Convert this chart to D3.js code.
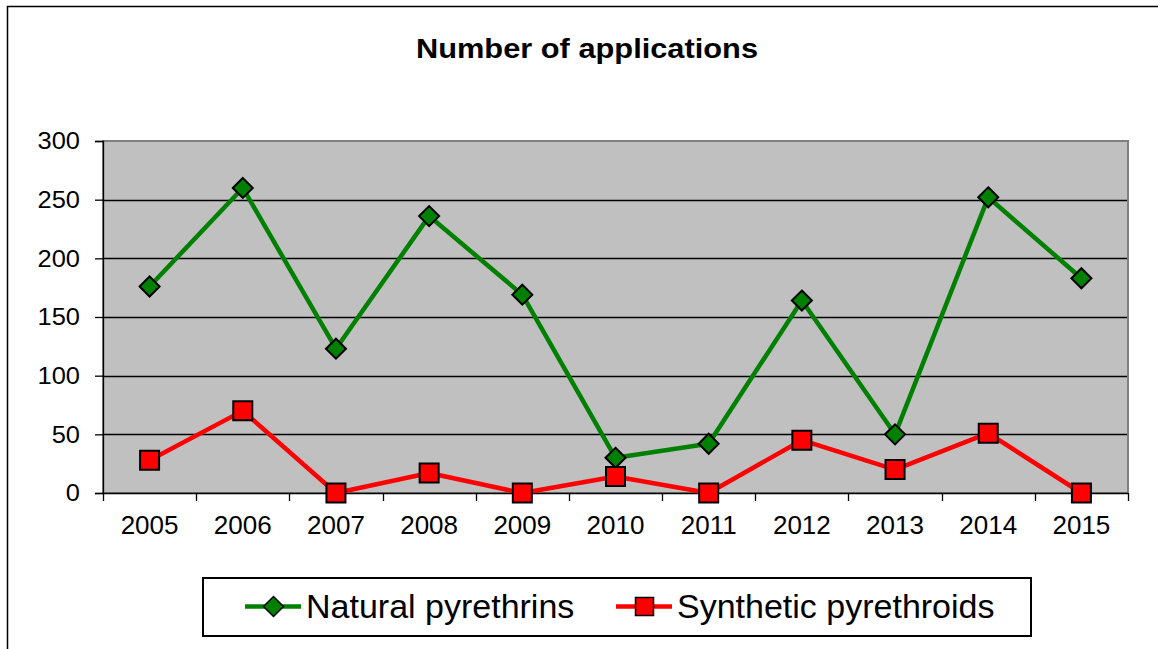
<!DOCTYPE html>
<html>
<head>
<meta charset="utf-8">
<script src="https://cdn.jsdelivr.net/npm/d3@7"></script>
<style>
  body { margin: 0; background: #fff; overflow: hidden; }
  svg { font-family: "Liberation Sans", Arial, sans-serif; display: block; }
</style>
</head>
<body>
<div id="chart"></div>
<script>
// data
const years = ['2005', '2006', '2007', '2008', '2009', '2010', '2011', '2012', '2013', '2014', '2015'];
const natural = [176, 260, 123, 236, 169, 30, 42, 164, 50, 252, 183];
const synthetic = [28, 70, 0, 17, 0, 14, 0, 45, 20, 51, 0];
const yTicks = [0, 50, 100, 150, 200, 250, 300];
const seriesNames = ['Natural pyrethrins', 'Synthetic pyrethroids'];

const width = 1158, height = 649;
const plot = { left: 103, right: 1128, top: 141, bottom: 493 };

const svg = d3.select('#chart').append('svg')
    .attr('width', width).attr('height', height);

// widen text a little, the source font renders wider than Liberation Sans
function stretch(sel, k) {
    sel.each(function () {
        const w = this.getComputedTextLength();
        d3.select(this).attr('textLength', w * k).attr('lengthAdjust', 'spacingAndGlyphs');
    });
}

// outer frame (right and bottom edges fall outside the picture)
svg.append('rect').attr('x', 7.5).attr('y', 6.5).attr('width', 1200).attr('height', 700)
    .attr('fill', '#fff').attr('stroke', '#000').attr('stroke-width', 1.5);

svg.append('text').attr('x', 587).attr('y', 58).attr('text-anchor', 'middle')
    .style('font-weight', 'bold').style('font-size', '27px').text('Number of applications')
    .call(stretch, 1.14);

const x = d3.scaleBand().domain(years).range([plot.left, plot.right]);
const y = d3.scaleLinear().domain([0, 300]).range([plot.bottom, plot.top]);

// plot background
svg.append('rect').attr('x', plot.left).attr('y', plot.top)
    .attr('width', plot.right - plot.left).attr('height', plot.bottom - plot.top)
    .attr('fill', '#c0c0c0');

// gridlines
svg.append('g').selectAll('line').data(yTicks.filter(d => d > 0 && d < 300)).join('line')
    .attr('x1', plot.left).attr('x2', plot.right)
    .attr('y1', d => Math.round(y(d)) + 0.5).attr('y2', d => Math.round(y(d)) + 0.5)
    .attr('stroke', '#000').attr('stroke-width', 1.3);

// plot border (gray)
svg.append('rect').attr('x', plot.left).attr('y', plot.top)
    .attr('width', plot.right - plot.left).attr('height', plot.bottom - plot.top)
    .attr('fill', 'none').attr('stroke', '#808080').attr('stroke-width', 2);

// y axis
const yAxis = svg.append('g').attr('transform', `translate(${plot.left},0)`)
    .call(d3.axisLeft(y).tickValues(yTicks).tickSize(8).tickPadding(15));
yAxis.select('.domain').attr('stroke', '#000').attr('stroke-width', 1.3);
yAxis.selectAll('.tick line').attr('stroke', '#000').attr('stroke-width', 1.3);
yAxis.selectAll('text').style('font-size', '24px').attr('fill', '#000').call(stretch, 1.06);

// x axis: ticks at band boundaries
const xAxis = svg.append('g').attr('transform', `translate(0,${plot.bottom})`);
xAxis.append('line').attr('x1', plot.left).attr('x2', plot.right)
    .attr('y1', 0.5).attr('y2', 0.5).attr('stroke', '#000').attr('stroke-width', 1.3);
xAxis.selectAll('line.tick').data(years.concat(['end'])).join('line').classed('tick', true)
    .attr('x1', (d, i) => Math.round(plot.left + i * x.step()) + 0.5)
    .attr('x2', (d, i) => Math.round(plot.left + i * x.step()) + 0.5)
    .attr('y1', 0).attr('y2', 8).attr('stroke', '#000').attr('stroke-width', 1.3);
xAxis.selectAll('text').data(years).join('text')
    .attr('x', d => x(d) + x.bandwidth() / 2).attr('y', 41)
    .attr('text-anchor', 'middle').style('font-size', '26px').text(d => d);

const line = d3.line().x((d, i) => x(years[i]) + x.bandwidth() / 2).y(d => y(d));

function drawSeries(values, color, shape) {
    const g = svg.append('g');
    g.append('path').datum(values).attr('d', line)
        .attr('fill', 'none').attr('stroke', color).attr('stroke-width', 4.5)
        .attr('stroke-linejoin', 'round');
    g.selectAll('path.mark').data(values).join('path').classed('mark', true)
        .attr('transform', (d, i) => `translate(${x(years[i]) + x.bandwidth() / 2},${y(d)})`)
        .attr('d', shape)
        .attr('fill', color).attr('stroke', '#000').attr('stroke-width', 2);
}

const diamond = 'M0,-10L10,0L0,10L-10,0Z';
const square = 'M-9.5,-9.5H9.5V9.5H-9.5Z';
drawSeries(natural, '#008000', diamond);
drawSeries(synthetic, '#ff0000', square);

// legend
const legend = svg.append('g');
legend.append('rect').attr('x', 203).attr('y', 578).attr('width', 828).attr('height', 58)
    .attr('fill', '#fff').attr('stroke', '#000').attr('stroke-width', 2);
const legendItems = [
    { name: seriesNames[0], color: '#008000', shape: 'M0,-10L10,0L0,10L-10,0Z', x: 245 },
    { name: seriesNames[1], color: '#ff0000', shape: 'M-9,-9H9V9H-9Z', x: 616 }
];
const li = legend.selectAll('g.item').data(legendItems).join('g').classed('item', true)
    .attr('transform', d => `translate(${d.x},606.5)`);
li.append('line').attr('x1', 0).attr('x2', 56).attr('stroke', d => d.color).attr('stroke-width', 4.5);
li.append('path').attr('transform', 'translate(28.5,0)').attr('d', d => d.shape)
    .attr('fill', d => d.color).attr('stroke', '#000').attr('stroke-width', 1.5);
li.append('text').attr('x', 61).attr('y', 11).style('font-size', '34px').text(d => d.name);
</script>
</body>
</html>
